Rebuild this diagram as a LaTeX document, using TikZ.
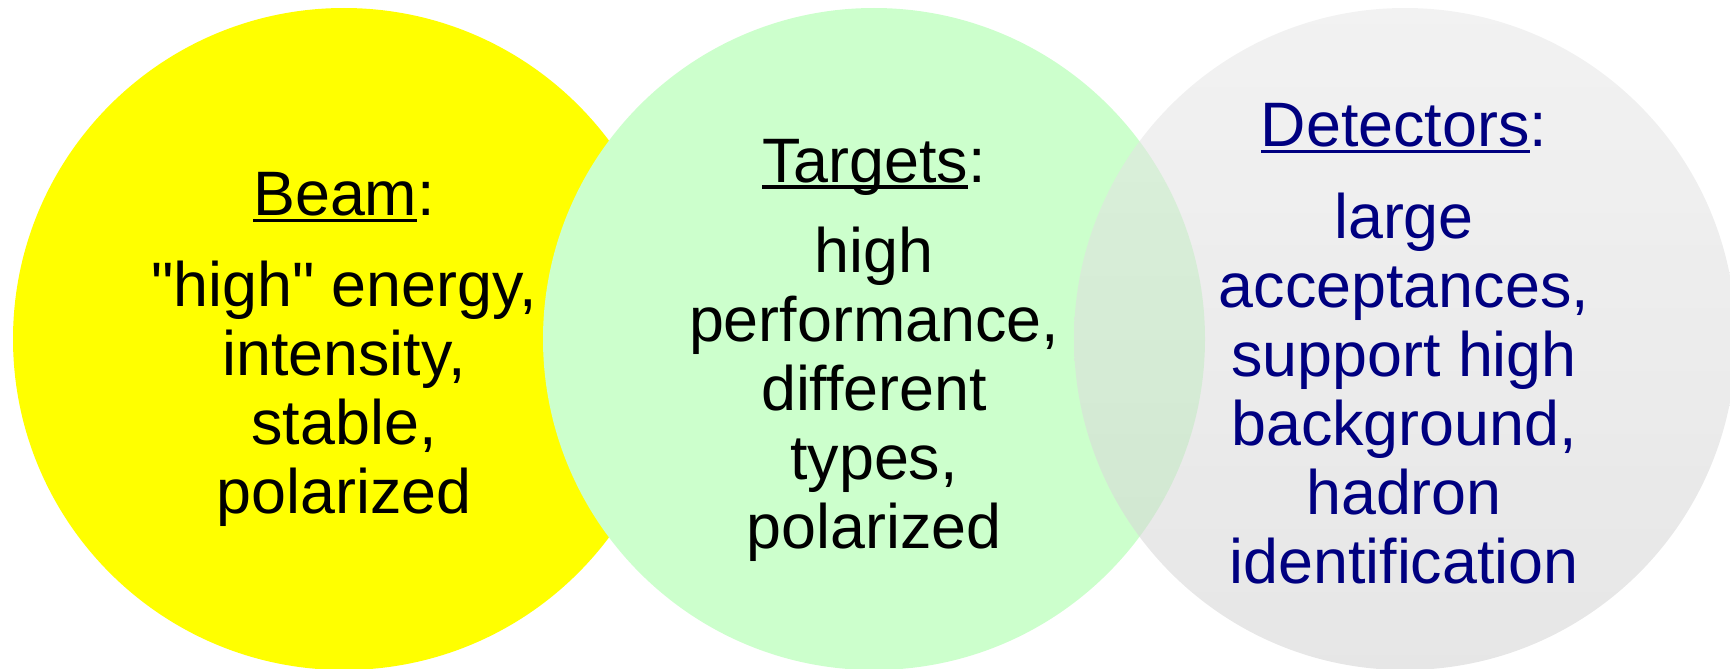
\documentclass[tikz,border=0pt]{standalone}
\usepackage{fontspec}
\setmainfont{Liberation Sans}
\definecolor{beamyellow}{RGB}{255,255,0}
\definecolor{targetgreen}{RGB}{204,255,204}
\definecolor{detgraytop}{RGB}{232,232,232}
\definecolor{detgraybot}{RGB}{211,211,211}
\definecolor{detnavy}{RGB}{0,0,128}
% underlined word with a rule at a fixed depth (crosses descenders)
\newcommand\ulword[1]{\setbox0\hbox{#1}\rlap{\rule[-6.6pt]{\wd0}{3.6pt}}\box0}
\begin{document}
\begin{tikzpicture}[x=1pt,y=-1pt,
  every node/.style={inner sep=0pt, outer sep=0pt},
  disc/.style={circle, minimum size=662pt, draw=none},
  txt/.style={anchor=base, font=\fontsize{62.8}{69}\selectfont}]
  \useasboundingbox (0,0) rectangle (1730,669);
  \clip (0,0) rectangle (1730,669);

  % the three overlapping discs
  \node[disc, fill=beamyellow] (beam) at (344,339) {};
  \node[disc, fill=targetgreen] (targets) at (874,339) {};
  \node[disc, top color=detgraytop, bottom color=detgraybot, opacity=0.57] (detectors) at (1405,339) {};

  % Beam
  \node[txt] (beamhead) at (344,215.5) {\ulword{Beam}:};
  \node[txt] (beambody) at (344,306.5)
    {\begin{tabular}[t]{@{}c@{}}\textquotedbl high\textquotedbl{} energy,\\intensity,\\stable,\\polarized\end{tabular}};

  % Targets
  \node[txt] (targethead) at (874,182) {\ulword{Targets}:};
  \node[txt] (targetbody) at (874,272)
    {\begin{tabular}[t]{@{}c@{}}high\\performance,\\different\\types,\\polarized\end{tabular}};

  % Detectors
  \node[txt, text=detnavy] (dethead) at (1404,146.5) {\ulword{Detectors}:};
  \node[txt, text=detnavy] (detbody) at (1404,238)
    {\begin{tabular}[t]{@{}c@{}}large\\acceptances,\\support high\\background,\\hadron\\identification\end{tabular}};
\end{tikzpicture}
\end{document}
